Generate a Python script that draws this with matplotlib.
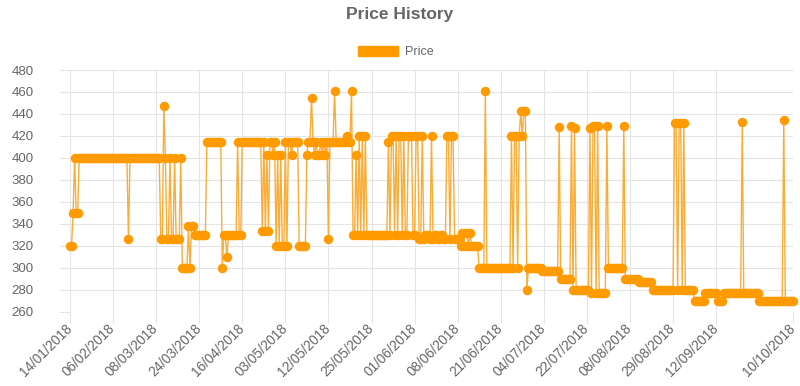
import numpy as np
import matplotlib
matplotlib.use("Agg")
import matplotlib.pyplot as plt
from matplotlib.patches import Patch

plt.rcParams['font.family'] = ['Liberation Sans', 'DejaVu Sans']

# price observations, stored as runs of equal consecutive values
run_prices = [
    320, 350, 400, 350, 400, 326, 400, 326, 447, 400, 326, 400, 326, 400, 326, 400,
    300, 338, 300, 338, 330, 415, 300, 330, 310, 330, 415, 330, 415,
    334, 415, 334, 403, 334, 415, 403, 415, 320, 403, 320, 403, 320, 415, 320, 415,
    403, 415, 320, 403, 415, 455, 415, 403, 415, 403, 415, 403, 415, 403, 415, 326,
    415, 461, 415, 420, 415, 461,
    330, 403, 330, 420, 330, 420, 330, 420, 330, 415, 330, 420, 330, 420, 330, 420,
    330, 420, 330, 420, 330, 420,
    326, 420, 326, 330, 326, 420, 326, 330, 326, 330, 326, 420, 326, 420, 326,
    320, 332, 320, 332, 320, 332, 320,
    300, 461, 300, 420, 300, 420, 300, 420, 443, 420, 443, 280,
    300, 297, 428, 290, 429, 280, 427, 280, 427, 277, 429, 277, 429, 277, 429,
    300, 429, 290, 287, 280, 432, 280, 432, 280, 432, 280,
    270, 277, 270, 277, 433, 277, 270, 435, 270,
]
run_counts = [
    2, 1, 1, 2, 32, 1, 20, 2, 1, 1, 2, 1, 2, 1, 3, 1,
    4, 1, 1, 2, 8, 10, 1, 2, 1, 6, 1, 2, 13,
    1, 1, 1, 1, 1, 2, 1, 1, 1, 1, 1, 1, 2, 1, 1, 2,
    1, 4, 5, 1, 2, 1, 1, 1, 1, 2, 1, 1, 1, 1, 1, 1,
    3, 1, 7, 1, 2, 1,
    2, 1, 1, 1, 1, 1, 1, 1, 14, 1, 1, 2, 1, 1, 1, 2,
    1, 1, 2, 3, 2, 2,
    2, 1, 1, 3, 1, 1, 1, 2, 2, 2, 2, 2, 1, 2, 4,
    1, 1, 1, 2, 1, 1, 5,
    4, 1, 16, 1, 1, 2, 1, 1, 1, 1, 2, 1,
    9, 11, 1, 7, 1, 1, 1, 9, 1, 1, 2, 1, 1, 5, 1,
    10, 1, 9, 9, 14, 2, 1, 2, 1, 1, 6,
    7, 8, 4, 12, 1, 10, 16, 1, 6,
]

# dates shown on the axis (every 28th observation plus the last one)
tick_labels = [
    '14/01/2018', '06/02/2018', '08/03/2018', '24/03/2018', '16/04/2018',
    '03/05/2018', '12/05/2018', '25/05/2018', '01/06/2018', '08/06/2018',
    '21/06/2018', '04/07/2018', '22/07/2018', '08/08/2018', '29/08/2018',
    '12/09/2018', '10/10/2018',
]
label_skip = 28

prices = np.repeat(run_prices, run_counts)
n = len(prices)
x = np.arange(n)

orange = '#ff9a00'
grid_col = '#e4e4e4'
text_col = '#666666'

fig = plt.figure(figsize=(8, 3.86), dpi=100)
ax = fig.add_axes([70 / 800, 1 - 312 / 386, 723 / 800, 242 / 386])

ax.plot(x, prices, color='#f9ad38', linewidth=1.0, marker='o', markersize=5.8,
        markerfacecolor=orange, markeredgecolor=orange, clip_on=False, zorder=3)

ax.set_xlim(0, n - 1)
ax.set_ylim(260, 480)
ax.set_yticks(np.arange(260, 481, 20))

tick_pos = list(range(0, (len(tick_labels) - 1) * label_skip, label_skip)) + [n - 1]
ax.set_xticks(tick_pos)
ax.set_xticklabels(tick_labels, rotation=45, ha='right', va='center',
                   rotation_mode='anchor')

ax.grid(True, color=grid_col, linewidth=0.8)
ax.set_axisbelow(True)
for s in ax.spines.values():
    s.set_visible(False)
ax.tick_params(axis='both', length=8, width=0.8, color=grid_col, labelcolor=text_col)
ax.tick_params(axis='y', pad=18, labelsize=9.5)
ax.tick_params(axis='x', pad=2, labelsize=9.8)

fig.text(0.5, 1 - 14 / 386, 'Price History', ha='center', va='center',
         fontsize=12.5, fontweight='bold', color=text_col)

fig.legend(handles=[Patch(facecolor=orange, edgecolor=orange)], labels=['Price'],
           loc='center', bbox_to_anchor=(396 / 800, 1 - 52 / 386), frameon=False,
           fontsize=9, handlelength=3.2, handleheight=0.9, handletextpad=0.55,
           labelcolor=text_col)

fig.savefig('out.png', dpi=100)
